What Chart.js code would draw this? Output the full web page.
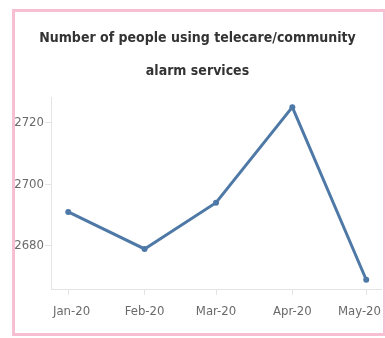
<!DOCTYPE html>
<html>
<head>
<meta charset="utf-8">
<script src="https://cdn.jsdelivr.net/npm/chart.js@4"></script>
<style>
  html, body { margin: 0; padding: 0; background: #fff; }
  #wrap { position: relative; width: 385px; height: 338px; }
  #frame {
    position: absolute; left: 12px; top: 9px; width: 374px; height: 327px;
    box-sizing: border-box; border: 3px solid #f6bfd2; pointer-events: none;
  }
</style>
</head>
<body>
<div id="wrap">
  <canvas id="myChart" width="385" height="338"></canvas>
  <div id="frame"></div>
</div>
<script>
const months = ['Jan-20', 'Feb-20', 'Mar-20', 'Apr-20', 'May-20'];
const monthDates = ['2020-01-01', '2020-02-01', '2020-03-01', '2020-04-01', '2020-05-01'];
const people = [2691, 2679, 2694, 2725, 2669];
const yTicks = [2680, 2700, 2720];

// days since the first month, so the x spacing follows the calendar
const start = new Date(monthDates[0]).getTime();
const days = monthDates.map(d => Math.round((new Date(d).getTime() - start) / 86400000));

const font = '"Liberation Sans Narrow", "DejaVu Sans Condensed", "Roboto", sans-serif';
const axisColor = '#e4e4e4';

// keep the outer month labels inside the plot, like the first/last ones are pulled in
const keepLabelsInside = {
  id: 'keepLabelsInside',
  beforeDraw: (chart) => {
    const scale = chart.scales.x;
    const { ctx, chartArea: { left, right } } = chart;
    const items = scale.getLabelItems();
    ctx.save();
    items.forEach(item => {
      ctx.font = item.font.string;
      const w = ctx.measureText(item.label).width;
      const x = item.options.translation[0];
      if (x - w / 2 < left + 2) item.options.translation[0] = left + 2 + w / 2;
      if (x + w / 2 > right) item.options.translation[0] = right - w / 2;
    });
    ctx.restore();
  }
};

const config = {
  type: 'line',
  data: {
    datasets: [{
      data: days.map((d, i) => ({ x: d, y: people[i] })),
      borderColor: '#4e79a7',
      backgroundColor: '#4e79a7',
      borderWidth: 3,
      pointRadius: 3,
      pointBorderWidth: 0,
      tension: 0,
    }]
  },
  options: {
    responsive: false,
    animation: false,
    layout: {
      padding: { left: 12, right: 2, top: 0, bottom: 0 }
    },
    scales: {
      x: {
        type: 'linear',
        min: -7,
        max: 127,
        afterBuildTicks: s => { s.ticks = days.map(v => ({ value: v })); },
        afterFit: s => { s.height = 49; s.paddingLeft = 0; s.paddingRight = 0; },
        grid: {
          display: true,
          drawOnChartArea: false,
          color: axisColor,
          tickLength: 6,
        },
        border: { color: axisColor },
        ticks: {
          padding: 9,
          color: '#6a6a6a',
          font: { family: font, size: 13 },
          callback: (v) => months[days.indexOf(v)],
        },
      },
      y: {
        min: 2666,
        max: 2728.3,
        afterBuildTicks: s => { s.ticks = yTicks.map(v => ({ value: v })); },
        afterFit: s => { s.width = 39; },
        grid: {
          display: true,
          drawOnChartArea: false,
          color: axisColor,
          tickLength: 6,
        },
        border: { color: axisColor },
        ticks: {
          padding: 1,
          color: '#6a6a6a',
          font: { family: font, size: 13 },
          callback: (v) => String(v),
        },
      }
    },
    plugins: {
      legend: { display: false },
      tooltip: { enabled: false },
      title: {
        display: true,
        text: ['Number of people using telecare/community', 'alarm services'],
        color: '#333333',
        font: { family: font, size: 14, weight: 'bold', lineHeight: '33px' },
        padding: { top: 22, bottom: 9 },
      },
    }
  },
  plugins: [keepLabelsInside]
};

new Chart(document.getElementById('myChart'), config);
</script>
</body>
</html>
